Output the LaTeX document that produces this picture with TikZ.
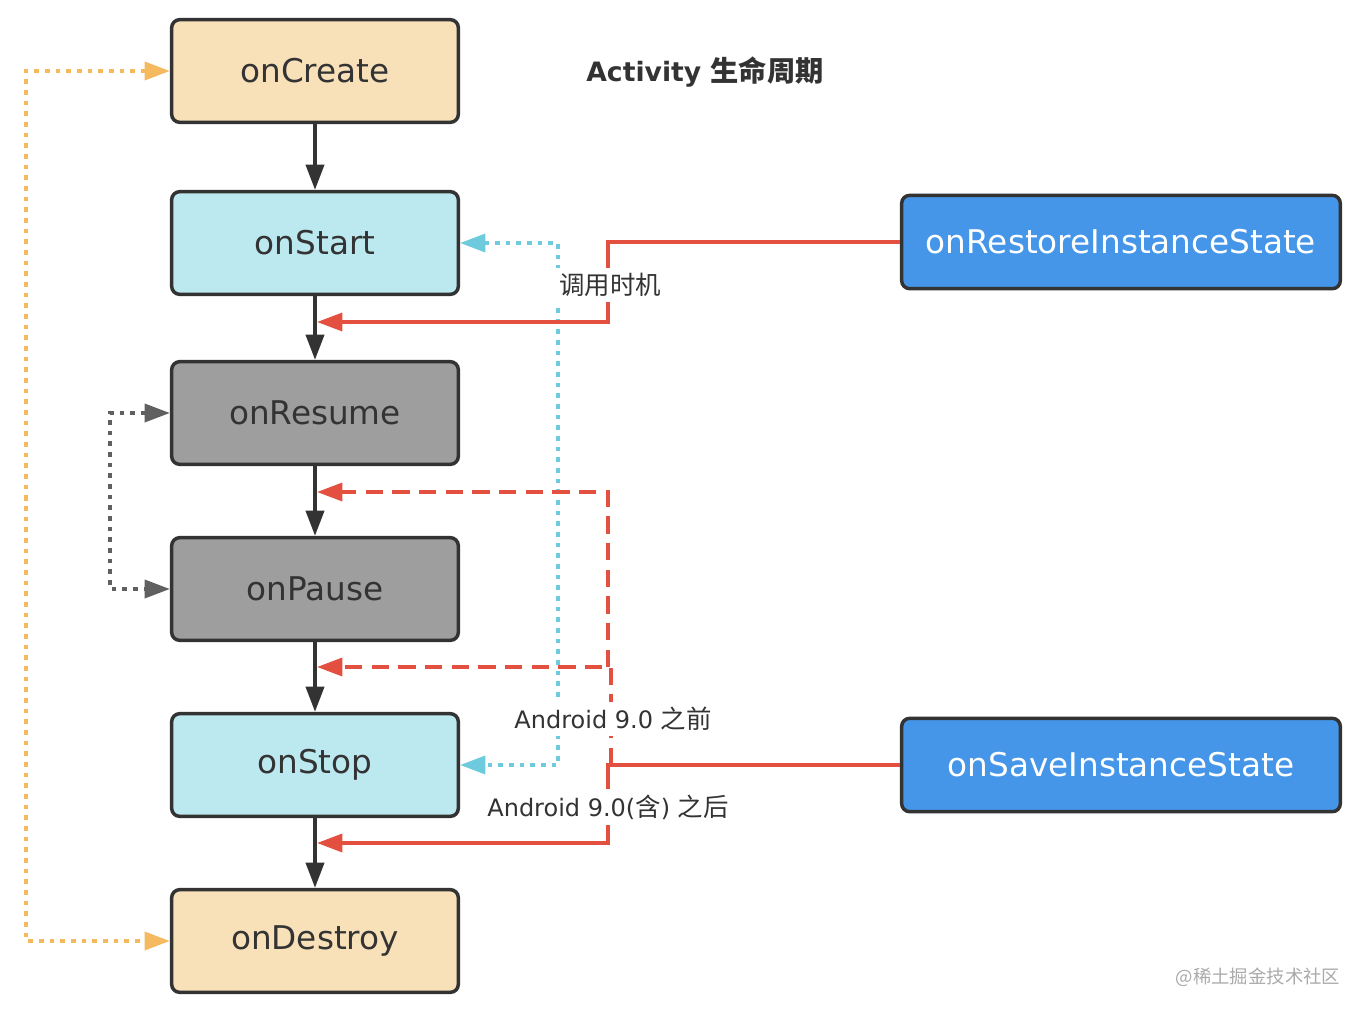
\documentclass[tikz,border=0pt]{standalone}
\usepackage{fontspec}
\setmainfont{DejaVu Sans}
\newfontfamily\cjk[Scale=1.06]{Noto Sans CJK SC}
\usetikzlibrary{arrows.meta}
\definecolor{dk}{HTML}{333333}
\definecolor{peach}{HTML}{F8E0B9}
\definecolor{lcyan}{HTML}{BCE9F0}
\definecolor{gr}{HTML}{9E9E9E}
\definecolor{bl}{HTML}{4596E8}
\definecolor{rd}{HTML}{E4503F}
\definecolor{org}{HTML}{F5B95F}
\definecolor{cy}{HTML}{6DCBDD}
\definecolor{gd}{HTML}{606060}
\definecolor{wm}{HTML}{AAAAAA}
\tikzset{
  >={Triangle[length=19pt,width=13.5pt]},
  box/.style={draw=dk, line width=2.6pt, rounded corners=6pt, minimum width=215pt,
    minimum height=77pt, inner sep=0pt, text=dk, font=\fontsize{24.5}{28}\selectfont},
  bbox/.style={box, fill=bl, text=white, minimum width=329pt, minimum height=70pt},
  blk/.style={draw=dk, line width=3pt, ->},
  redline/.style={draw=rd, line width=2.6pt, ->},
  reddash/.style={redline, dash pattern=on 13pt off 7pt},
  dotline/.style={line width=2.8pt, dash pattern=on 3.5pt off 4.5pt, <->},
  lbl/.style={fill=white, inner xsep=3pt, inner ysep=4pt, text=dk, font=\fontsize{18}{22}\selectfont},
}
\begin{document}
\begin{tikzpicture}[x=0.75pt,y=-0.75pt]
\useasboundingbox (0,0) rectangle (1364,1014);
% boxes
\node[box, fill=peach] (onCreate) at (315,71) {onCreate};
\node[box, fill=lcyan] (onStart) at (315,243) {onStart};
\node[box, fill=gr] (onResume) at (315,413) {onResume};
\node[box, fill=gr] (onPause) at (315,589) {onPause};
\node[box, fill=lcyan] (onStop) at (315,765) {onStop};
\node[box, fill=peach] (onDestroy) at (315,941) {onDestroy};
\node[bbox] (onRestore) at (1121,242) {onRestoreInstanceState};
\node[bbox] (onSave) at (1121,765) {onSaveInstanceState};
% coordinates
\coordinate (oy) at (26,500);
\coordinate (gy) at (110,500);
\coordinate (cyv) at (558,500);
\coordinate (rA) at (608,322);
\coordinate (eA) at (317,322);
\coordinate (rC) at (608,843);
\coordinate (eC) at (317,843);
\coordinate (sD) at (611,765);
\coordinate (eD) at (317,667);
\coordinate (sE) at (608,667);
\coordinate (eE) at (317,492);
% dotted loops
\draw[dotline, draw=org] (onCreate.west) -| (oy) |- (onDestroy.west);
\draw[dotline, draw=gd] (onResume.west) -| (gy) |- (onPause.west);
\draw[dotline, draw=cy] (onStart.east) -| (cyv) |- (onStop.east);
% main flow
\draw[blk] (onCreate) -- (onStart);
\draw[blk] (onStart) -- (onResume);
\draw[blk] (onResume) -- (onPause);
\draw[blk] (onPause) -- (onStop);
\draw[blk] (onStop) -- (onDestroy);
% red connectors
\draw[redline] (onRestore.west) -| (rA) -- (eA);
\draw[redline] (onSave.west) -| (rC) -- (eC);
\draw[reddash] (sD) |- (eD);
\draw[reddash] (sE) |- (eE);
% labels
\node[lbl] (l1) at (610,285) {\cjk 调用时机};
\node[lbl] (l2) at (613,719) {Android 9.0 {\cjk 之前}};
\node[lbl] (l3) at (608,807) {Android 9.0({\cjk 含}) {\cjk 之后}};
\node[text=dk, font=\fontsize{20}{24}\selectfont\bfseries] (title) at (705,72) {Activity {\cjk\bfseries 生命周期}};
\node[text=wm, font=\fontsize{13}{16}\selectfont\cjk] (wmk) at (1258,977) {@稀土掘金技术社区};
\end{tikzpicture}
\end{document}
